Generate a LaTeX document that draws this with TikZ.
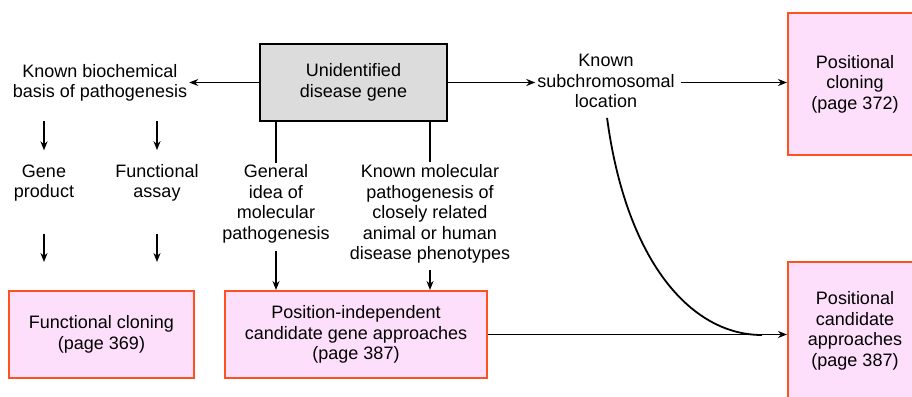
\documentclass[tikz,border=0pt]{standalone}
\usepackage{fontspec}
\setmainfont{Liberation Sans}
\usetikzlibrary{arrows.meta,calc}
\definecolor{boxpink}{HTML}{FDDFFB}
\definecolor{boxred}{HTML}{FF5020}
\definecolor{boxgray}{HTML}{DCDCDC}
\tikzset{
  lbl/.style={align=center,inner sep=2pt,font=\fontsize{18}{20.5}\selectfont},
  pinkbox/.style={lbl,draw=boxred,fill=boxpink,line width=2pt},
  graybox/.style={lbl,draw=black,fill=boxgray,line width=2pt},
  conn/.style={line width=1.8pt},
  arr/.style={conn,-{Stealth[length=9pt,width=7pt]}}
}
\begin{document}
\begin{tikzpicture}[x=1pt,y=-1pt]
\useasboundingbox (0,0) rectangle (912,396);
% nodes
\node[graybox,minimum width=187pt,minimum height=77pt] (ud) at (353.5,82.5) {Unidentified\\disease gene};
\node[lbl] (kb) at (100,83) {Known biochemical\\basis of pathogenesis};
\node[lbl] (ksl) at (606,81) {Known\\subchromosomal\\location};
\node[pinkbox,minimum width=134pt,minimum height=142pt] (pc) at (855,84) {Positional\\cloning\\(page 372)};
\node[pinkbox,minimum width=134pt,minimum height=138pt] (pca) at (855,331) {Positional\\candidate\\approaches\\(page 387)};
\node[lbl] (gp) at (44,183) {Gene\\product};
\node[lbl] (fa) at (157,183) {Functional\\assay};
\node[lbl] (gi) at (276,204) {General\\idea of\\molecular\\pathogenesis};
\node[lbl] (km) at (430,214) {Known molecular\\pathogenesis of\\closely related\\animal or human\\disease phenotypes};
\node[pinkbox,minimum width=185pt,minimum height=87pt] (fc) at (101.5,334.5) {Functional cloning\\(page 369)};
\node[pinkbox,minimum width=262pt,minimum height=87pt] (pi) at (356,334.5) {Position-independent\\candidate gene approaches\\(page 387)};
\coordinate (merge) at (762,335);
% connectors
\draw[arr] (ud.west) -- (ud.west -| kb.east);
\draw[arr] (ud.east) -- (ud.east -| ksl.west);
\draw[arr,shorten <=4pt] (ud.east -| ksl.east) -- (ud.east -| pc.west);
\draw[arr,shorten <=17pt,shorten >=12pt] (kb.south -| gp) -- (gp.north);
\draw[arr,shorten <=17pt,shorten >=12pt] (kb.south -| fa) -- (fa.north);
\draw[arr,shorten <=30pt,shorten >=28pt] (gp.south) -- (gp.south |- fc.north);
\draw[arr,shorten <=30pt,shorten >=28pt] (fa.south) -- (fa.south |- fc.north);
\draw[conn] (ud.south -| gi) -- (gi.north);
\draw[conn] (ud.south -| km.north) -- (km.north);
\draw[arr,shorten <=6pt] (gi.south) -- (gi.south |- pi.north);
\draw[arr,shorten <=4pt] (km.south) -- (km.south |- pi.north);
\draw[arr] (pi.east) -- (pi.east -| pca.west);
\draw[conn,shorten <=8pt] (ksl.south) .. controls (626,260) and (690,335) .. (merge);
\end{tikzpicture}
\end{document}
